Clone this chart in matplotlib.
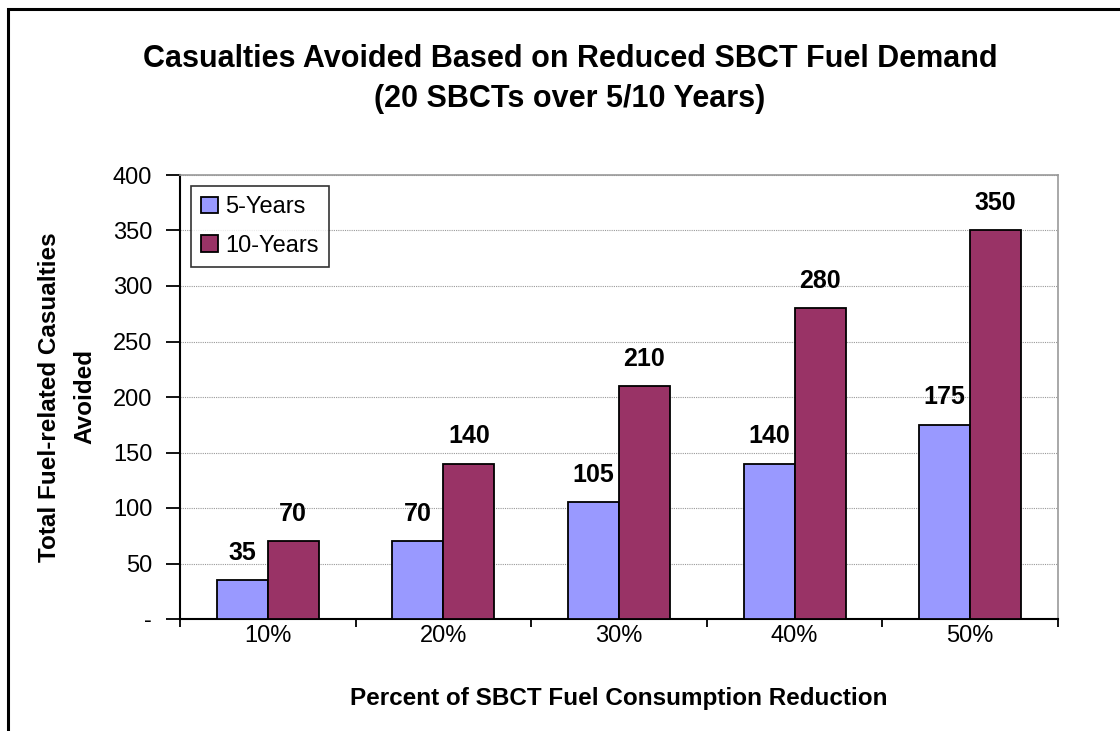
import matplotlib.pyplot as plt
from matplotlib.patches import Rectangle
import numpy as np

plt.rcParams['font.family'] = ['Liberation Sans', 'DejaVu Sans']

categories = ["10%", "20%", "30%", "40%", "50%"]
five_years = [35, 70, 105, 140, 175]
ten_years = [70, 140, 210, 280, 350]
y_ticks = [0, 50, 100, 150, 200, 250, 300, 350, 400]
y_tick_labels = ["-", "50", "100", "150", "200", "250", "300", "350", "400"]

fig = plt.figure(figsize=(11.2, 7.31), dpi=100)
fig.patches.append(Rectangle((8 / 1120, -0.1), 1.2, 1.1 - 9 / 731,
                             transform=fig.transFigure, fill=False,
                             edgecolor="black", linewidth=2.2))

ax = fig.add_axes([180 / 1120, 1 - 619 / 731, 878 / 1120, 444 / 731])

x = np.arange(len(categories))
width = 0.29
b1 = ax.bar(x - width / 2, five_years, width, color="#9999FF",
            edgecolor="black", linewidth=1.3, label="5-Years", zorder=3)
b2 = ax.bar(x + width / 2, ten_years, width, color="#993366",
            edgecolor="black", linewidth=1.3, label="10-Years", zorder=3)

for bars in (b1, b2):
    for rect in bars:
        h = rect.get_height()
        ax.annotate(f"{h:g}", (rect.get_x() + rect.get_width() / 2, h),
                    xytext=(0, 11), textcoords="offset points",
                    ha="center", va="bottom", fontsize=18, fontweight="bold")

ax.set_xlim(-0.5, len(categories) - 0.5)
ax.set_ylim(0, 400)
ax.set_yticks(y_ticks)
ax.set_yticklabels(y_tick_labels, fontsize=17)
ax.set_xticks(x)
ax.set_xticklabels(categories, fontsize=17)
ax.tick_params(axis="x", length=0, pad=4)
ax.set_xticks(np.arange(len(categories) + 1) - 0.5, minor=True)
ax.tick_params(axis="x", which="minor", length=6, width=1.3, direction="out")
ax.tick_params(axis="y", length=10, width=1.3, direction="out", pad=10)

ax.grid(axis="y", color="#999999", linestyle=(0, (1, 1)), linewidth=0.8, zorder=0)
for s in ("top", "right"):
    ax.spines[s].set_color("#999999")
    ax.spines[s].set_linewidth(1.2)
for s in ("left", "bottom"):
    ax.spines[s].set_linewidth(1.5)

ax.set_xlabel("Percent of SBCT Fuel Consumption Reduction", fontsize=17.5,
              fontweight="bold", labelpad=29)
ax.set_ylabel("Total Fuel-related Casualties\nAvoided", fontsize=17.5,
              fontweight="bold", labelpad=12, linespacing=1.65)

fig.text(570 / 1120, 1 - 59 / 731, "Casualties Avoided Based on Reduced SBCT Fuel Demand",
         ha="center", va="center", fontsize=22, fontweight="bold")
fig.text(570 / 1120, 1 - 99 / 731, "(20 SBCTs over 5/10 Years)",
         ha="center", va="center", fontsize=22, fontweight="bold")

leg = ax.legend(loc="upper left", fontsize=17, frameon=True, fancybox=False,
                edgecolor="black", handlelength=0.7, handleheight=0.7,
                handletextpad=0.3, borderaxespad=0.45, labelspacing=0.7,
                borderpad=0.45)
leg.get_frame().set_linewidth(1.2)

fig.savefig("out.png", dpi=100)
